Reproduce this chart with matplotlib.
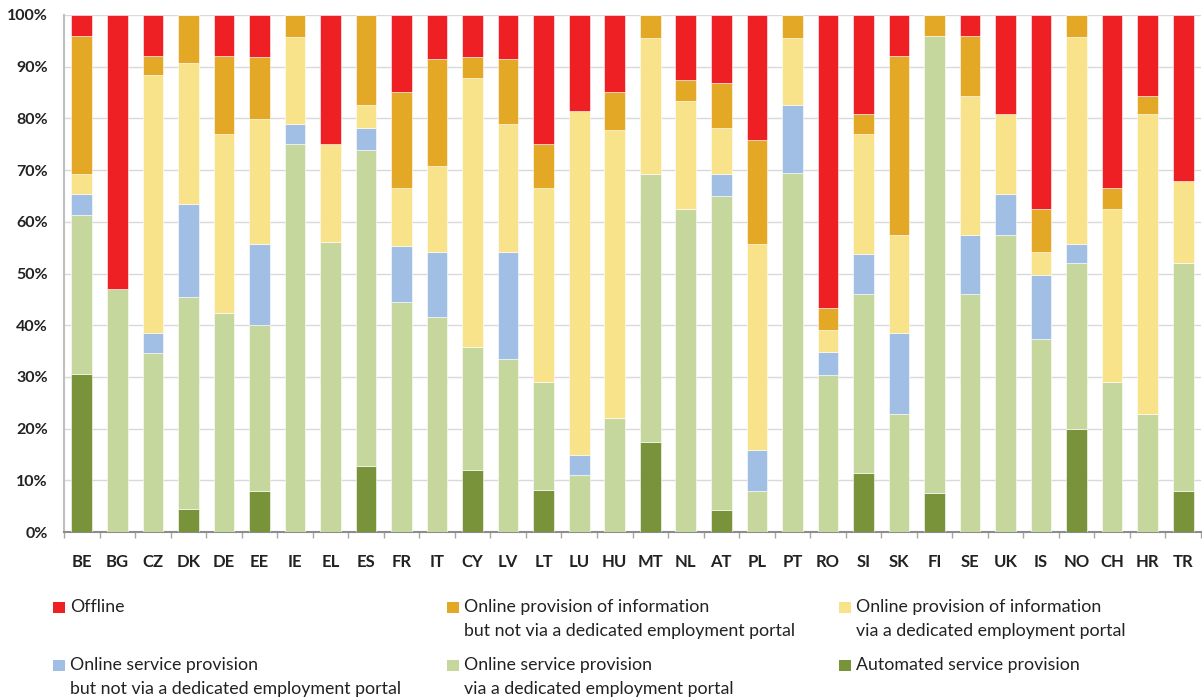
import matplotlib
matplotlib.use("Agg")
import matplotlib.pyplot as plt
import numpy as np
from matplotlib.patches import Rectangle
from matplotlib.ticker import FixedLocator, PercentFormatter

plt.rcParams["font.family"] = ["Lato", "DejaVu Sans"]

countries = ["BE", "BG", "CZ", "DK", "DE", "EE", "IE", "EL", "ES", "FR", "IT", "CY",
             "LV", "LT", "LU", "HU", "MT", "NL", "AT", "PL", "PT", "RO", "SI", "SK",
             "FI", "SE", "UK", "IS", "NO", "CH", "HR", "TR"]

automated = [30.6, 0, 0, 4.4, 0, 7.9, 0, 0, 12.8, 0, 0, 11.9,
             0, 8.1, 0, 0, 17.4, 0, 4.2, 0, 0, 0, 11.4, 0,
             7.5, 0, 0, 0, 19.9, 0, 0, 7.9]
service_portal = [30.8, 47.0, 34.6, 41.0, 42.3, 32.1, 75.0, 56.0, 61.1, 44.5, 41.6, 23.9,
                  33.4, 20.9, 11.0, 22.1, 51.9, 62.5, 60.8, 7.9, 69.4, 30.3, 34.6, 22.9,
                  88.5, 46.0, 57.5, 37.4, 32.1, 29.0, 22.9, 44.1]
service_no_portal = [3.9, 0, 3.8, 18.1, 0, 15.8, 3.9, 0, 4.3, 10.9, 12.5, 0,
                     20.7, 0, 3.8, 0, 0, 0, 4.3, 7.9, 13.1, 4.5, 7.7, 15.5,
                     0, 11.5, 7.8, 12.4, 3.8, 0, 0, 0]
info_portal = [3.9, 0, 49.9, 27.3, 34.6, 24.1, 16.9, 19.0, 4.3, 11.2, 16.6, 52.1,
               24.9, 37.6, 66.6, 55.6, 26.2, 20.9, 8.9, 40.0, 13.0, 4.2, 23.2, 19.1,
               0, 26.9, 15.5, 4.3, 40.0, 33.5, 57.9, 15.9]
info_no_portal = [26.8, 0, 3.8, 9.2, 15.2, 12.0, 4.2, 0, 17.5, 18.5, 20.8, 4.0,
                  12.5, 8.4, 0, 7.4, 4.5, 4.0, 8.6, 20.0, 4.5, 4.4, 3.9, 34.6,
                  4.0, 11.6, 0, 8.4, 4.2, 4.1, 3.6, 0]
offline = [4.0, 53.0, 7.9, 0, 7.9, 8.1, 0, 25.0, 0, 14.9, 8.5, 8.1,
           8.5, 25.0, 18.6, 14.9, 0, 12.6, 13.2, 24.2, 0, 56.6, 19.2, 7.9,
           0, 4.0, 19.2, 37.5, 0, 33.4, 15.6, 32.1]

series_labels = ["Automated service provision",
                 "Online service provision\nvia a dedicated employment portal",
                 "Online service provision\nbut not via a dedicated employment portal",
                 "Online provision of information\nvia a dedicated employment portal",
                 "Online provision of information\nbut not via a dedicated employment portal",
                 "Offline"]
series_colors = ["#79933A", "#C5D79D", "#A1BFE4", "#F8E38B", "#E3A826", "#EE2024"]
series_values = [automated, service_portal, service_no_portal, info_portal,
                 info_no_portal, offline]

fig = plt.figure(figsize=(12.02, 6.99), dpi=100)
W, H = 1202, 699
ax = fig.add_axes([64 / W, 1 - 532 / H, (1201 - 64) / W, (532 - 15) / H])

x = np.arange(len(countries))
bottom = np.zeros(len(countries))
for vals, col in zip(series_values, series_colors):
    v = np.array(vals, dtype=float)
    ax.bar(x, v, bottom=bottom, width=0.58, color=col, edgecolor="white",
           linewidth=0.4, zorder=3)
    bottom += v

ax.set_xlim(-0.5, len(countries) - 0.5)
ax.set_ylim(0, 100)
ax.yaxis.set_major_locator(FixedLocator(np.arange(0, 101, 10)))
ax.yaxis.set_major_formatter(PercentFormatter(decimals=0))
ax.grid(axis="y", color="#D9D9D9", linewidth=1, zorder=0)
ax.set_axisbelow(True)

ax.set_xticks(np.arange(-0.5, len(countries), 1.0))
ax.set_xticklabels([])
ax.set_xticks(x, minor=True)
ax.set_xticklabels(countries, minor=True)
ax.tick_params(axis="x", which="major", length=4, width=1, color="#A6A6A6", direction="out")
ax.tick_params(axis="x", which="minor", length=0, pad=15.5, labelsize=12,
               labelcolor="#222222")
ax.tick_params(axis="y", length=0, pad=11.5, labelsize=11.5, labelcolor="#222222")
for lab in ax.get_xticklabels(minor=True) + ax.get_yticklabels():
    lab.set_fontweight("bold")

for s in ["top", "right"]:
    ax.spines[s].set_visible(False)
ax.spines["left"].set_color("#BFBFBF")
ax.spines["left"].set_linewidth(1.5)
ax.spines["bottom"].set_color("#8C8C8C")
ax.spines["bottom"].set_linewidth(1.5)

# legend (manual, 3 columns x 2 rows)
legend_order = [5, 4, 3, 2, 1, 0]
col_x = [53, 447, 839]
row_y = [607, 665]
for k, idx in enumerate(legend_order):
    cx = col_x[k % 3]
    ry = row_y[k // 3]
    fig.patches.append(Rectangle((cx / W, 1 - (ry + 5.5) / H), 12 / W, 11 / H,
                                 transform=fig.transFigure, facecolor=series_colors[idx],
                                 edgecolor="none"))
    lines = series_labels[idx].split("\n")
    for j, line in enumerate(lines):
        fig.text((cx + 17) / W, 1 - (ry + 24 * j) / H, line, fontsize=12.8, va="center",
                 ha="left", color="#222222")

fig.savefig("out.png", dpi=100)
